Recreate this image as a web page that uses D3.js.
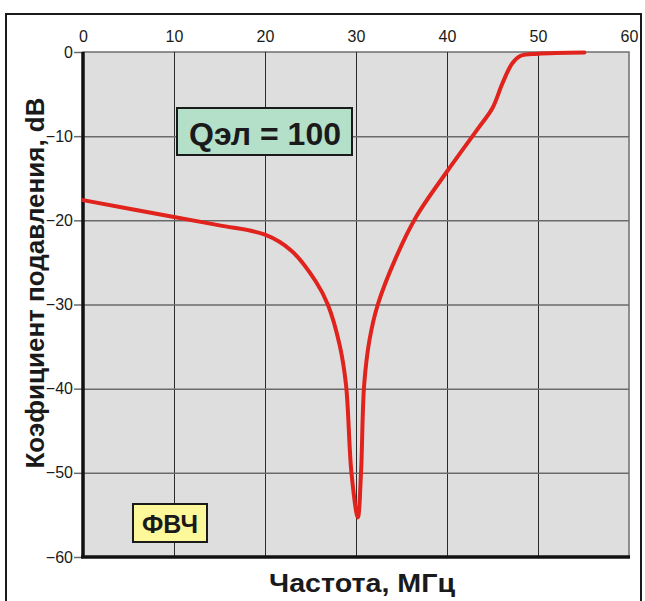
<!DOCTYPE html>
<html>
<head>
<meta charset="utf-8">
<script src="https://cdn.jsdelivr.net/npm/d3@7"></script>
<style>
  body { margin: 0; background: #fff; }
  svg { display: block; font-family: Arial, "Liberation Sans", sans-serif; }
</style>
</head>
<body>
<div id="chart"></div>
<script>
// data
const freq = [0, 10, 15, 20, 22.9, 25.6, 26.9, 28.2, 28.9, 29.5, 30.2, 30.55, 30.9, 31.5, 32.4, 34.4, 36.6, 40, 43.4, 45.0, 46.1, 47.2, 48.1, 50, 55.1];
const atten = [-17.6, -19.6, -20.6, -21.7, -23.6, -27.3, -30.0, -34.8, -39.5, -50, -55.3, -50, -39.5, -34.1, -30.0, -24.4, -19.6, -14.2, -9.1, -6.65, -3.7, -1.3, -0.45, -0.2, -0.05];
const xTicks = [0, 10, 20, 30, 40, 50, 60];
const yTicks = [0, -10, -20, -30, -40, -50, -60];
const qLabel = "Qэл = 100";
const typeLabel = "ФВЧ";
const xTitle = "Частота, МГц";
const yTitle = "Коэфициент подавления, dB";

var dimension = {
    width: 645,
    height: 601,
    margin: { top: 52, left: 83, right: 16, bottom: 44 }
}
dimension.boundedWidth = dimension.width - dimension.margin.left - dimension.margin.right;
dimension.boundedHeight = dimension.height - dimension.margin.top - dimension.margin.bottom;

const svg = d3.select("#chart").append("svg")
    .attr("width", dimension.width)
    .attr("height", dimension.height);

// outer frame
svg.append("rect")
    .attr("x", 6).attr("y", 14)
    .attr("width", 635).attr("height", 600)
    .attr("fill", "none")
    .attr("stroke", "#1a1a1a")
    .attr("stroke-width", 2);

const bounded = svg.append("g")
    .attr("transform", `translate(${dimension.margin.left},${dimension.margin.top})`);

// scales
const xScaler = d3.scaleLinear().domain([0, 60]).range([0, dimension.boundedWidth]);
const yScaler = d3.scaleLinear().domain([-60, 0]).range([dimension.boundedHeight, 0]);

// background
bounded.append("rect")
    .attr("width", dimension.boundedWidth)
    .attr("height", dimension.boundedHeight)
    .attr("fill", "#dedede")
    .attr("stroke", "#6e6e6e")
    .attr("stroke-width", 1.5);

// grid lines
const xGrid = d3.axisBottom(xScaler).tickValues(xTicks.slice(1, -1)).tickSize(-dimension.boundedHeight).tickFormat("");
bounded.append("g")
    .attr("transform", `translate(0,${dimension.boundedHeight})`)
    .call(xGrid)
    .call(g => g.select(".domain").remove())
    .call(g => g.selectAll("line").attr("stroke", "#2a2a2a").attr("stroke-width", 1));

const yGrid = d3.axisLeft(yScaler).tickValues(yTicks.slice(1, -1)).tickSize(-dimension.boundedWidth).tickFormat("");
bounded.append("g")
    .call(yGrid)
    .call(g => g.select(".domain").remove())
    .call(g => g.selectAll("line").attr("stroke", "#6a6a6a").attr("stroke-width", 1.5));

// top axis labels
const xAxisGenerator = d3.axisTop(xScaler).tickValues(xTicks).tickSize(0).tickPadding(10);
bounded.append("g")
    .call(xAxisGenerator)
    .call(g => g.select(".domain").remove())
    .call(g => g.selectAll("text").attr("font-size", 16).attr("fill", "#1a1a1a").attr("font-family", "Arial, 'Liberation Sans', sans-serif"));

// left axis
const yAxisGenerator = d3.axisLeft(yScaler).tickValues(yTicks).tickSize(9).tickPadding(1);
bounded.append("g")
    .call(yAxisGenerator)
    .call(g => g.select(".domain").remove())
    .call(g => g.selectAll("line").attr("stroke", "#6a6a6a").attr("stroke-width", 1.5))
    .call(g => g.selectAll("text").attr("font-size", 16).attr("fill", "#1a1a1a").attr("font-family", "Arial, 'Liberation Sans', sans-serif"));

// thick axis lines
bounded.append("line")
    .attr("x1", 0).attr("x2", 0)
    .attr("y1", 0).attr("y2", dimension.boundedHeight)
    .attr("stroke", "#111").attr("stroke-width", 3.5);
bounded.append("line")
    .attr("x1", -2).attr("x2", dimension.boundedWidth + 1)
    .attr("y1", dimension.boundedHeight).attr("y2", dimension.boundedHeight)
    .attr("stroke", "#111").attr("stroke-width", 3.5);

// curve
const data = freq.map((f, i) => ({ f: f, db: atten[i] }));
const line = d3.line()
    .x(d => xScaler(d.f))
    .y(d => yScaler(d.db))
    .curve(d3.curveCatmullRom.alpha(0.5));
bounded.append("path")
    .datum(data)
    .attr("d", line)
    .attr("fill", "none")
    .attr("stroke", "#e0231c")
    .attr("stroke-width", 4)
    .attr("stroke-linejoin", "round")
    .attr("stroke-linecap", "round");

// Q label box
svg.append("rect")
    .attr("x", 177).attr("y", 108)
    .attr("width", 175).attr("height", 47)
    .attr("fill", "#b4dfc9")
    .attr("stroke", "#1a1a1a")
    .attr("stroke-width", 2);
svg.append("text")
    .attr("x", 265).attr("y", 145)
    .attr("text-anchor", "middle")
    .attr("font-size", 32)
    .attr("font-weight", "bold")
    .attr("fill", "#1a1a1a")
    .text(qLabel);

// filter type box
svg.append("rect")
    .attr("x", 133).attr("y", 504)
    .attr("width", 74).attr("height", 38)
    .attr("fill", "#fdf99a")
    .attr("stroke", "#1a1a1a")
    .attr("stroke-width", 2);
svg.append("text")
    .attr("x", 170).attr("y", 533)
    .attr("text-anchor", "middle")
    .attr("font-size", 25)
    .attr("font-weight", "bold")
    .attr("fill", "#1a1a1a")
    .text(typeLabel);

// axis titles
svg.append("text")
    .attr("x", 362).attr("y", 592)
    .attr("text-anchor", "middle")
    .attr("font-size", 25)
    .attr("font-weight", "bold")
    .attr("fill", "#1a1a1a")
    .attr("textLength", 186)
    .attr("lengthAdjust", "spacingAndGlyphs")
    .text(xTitle);

svg.append("text")
    .attr("transform", "translate(44,283) rotate(-90)")
    .attr("text-anchor", "middle")
    .attr("font-size", 26)
    .attr("font-weight", "bold")
    .attr("fill", "#1a1a1a")
    .text(yTitle);
</script>
</body>
</html>
